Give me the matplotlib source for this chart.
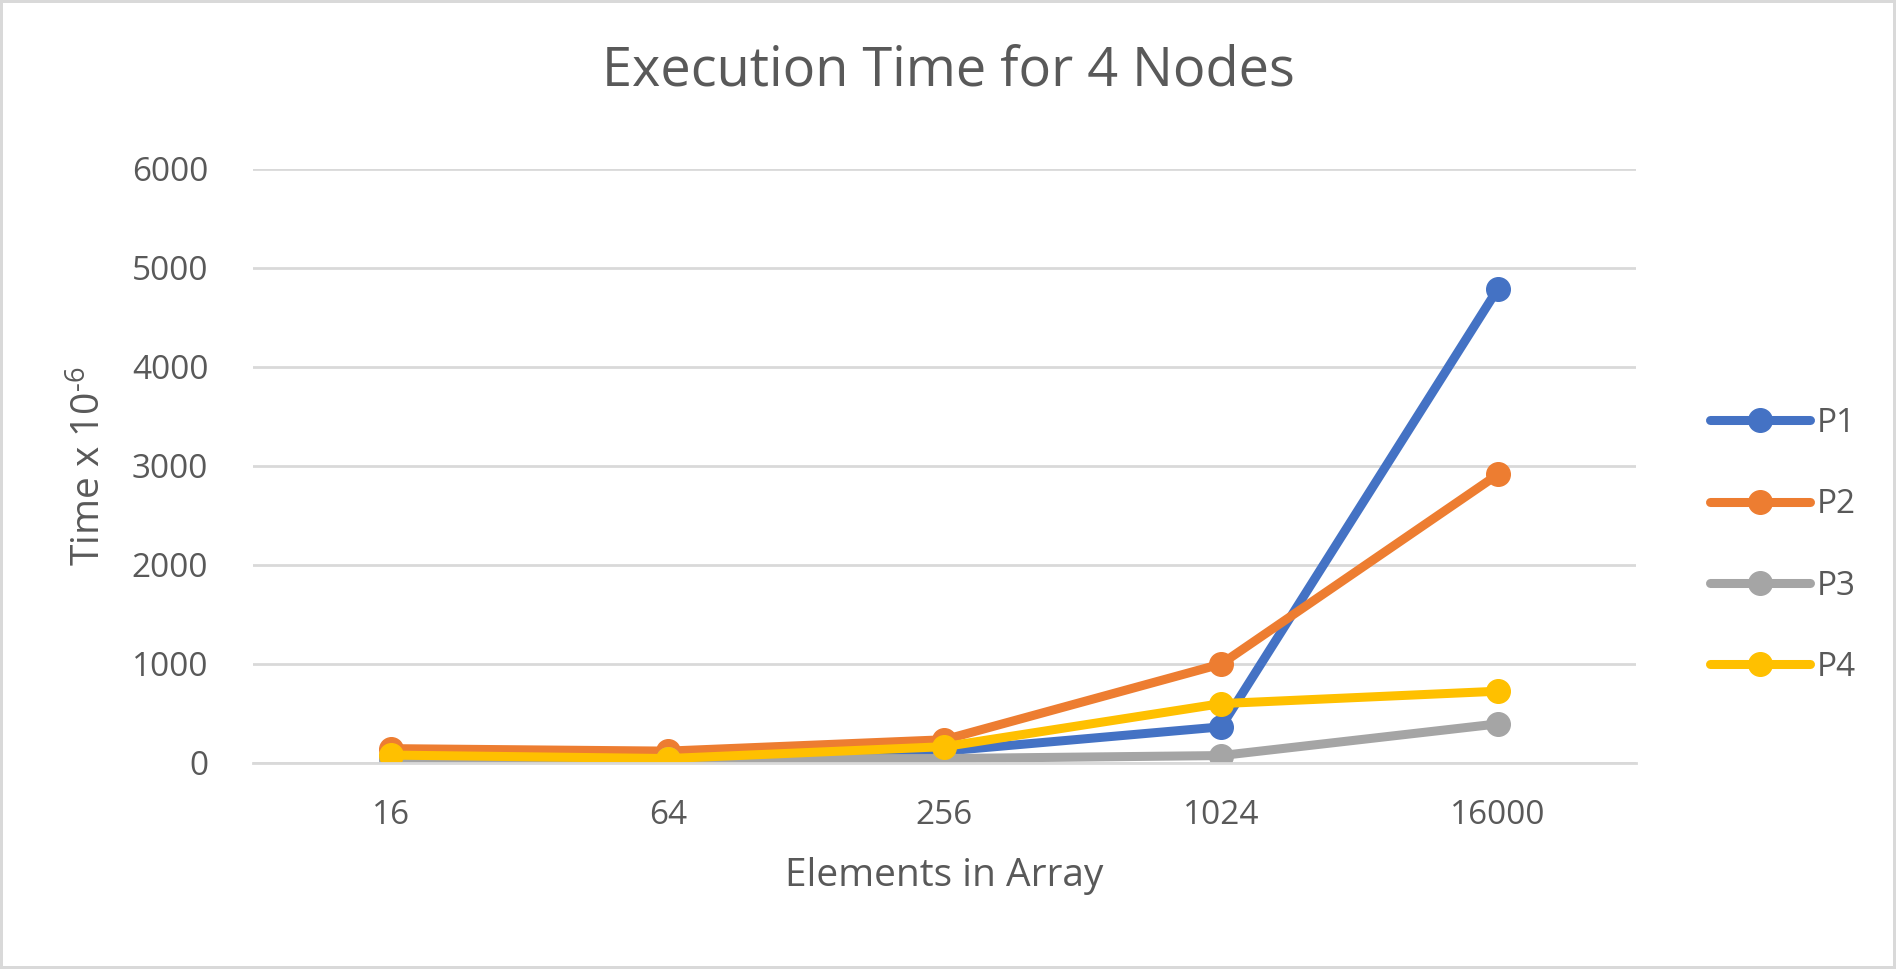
import matplotlib.pyplot as plt
from matplotlib.lines import Line2D

plt.rcParams['font.family'] = ['Open Sans', 'DejaVu Sans']
plt.rcParams['mathtext.default'] = 'regular'

categories = ['16', '64', '256', '1024', '16000']
p1 = [55, 45, 120, 365, 4790]
p2 = [145, 120, 235, 1000, 2915]
p3 = [50, 40, 45, 75, 395]
p4 = [80, 45, 165, 600, 725]

series = [('P1', p1, '#4472C4'), ('P2', p2, '#ED7D31'),
          ('P3', p3, '#A5A5A5'), ('P4', p4, '#FFC000')]

text_color = '#595959'

fig = plt.figure(figsize=(18.96, 9.69), dpi=100)
fig.patch.set_edgecolor('#D9D9D9')
fig.patch.set_linewidth(3)
ax = fig.add_axes([0.1333, 0.2126, 0.7297, 0.613])

x = list(range(len(categories)))
for name, vals, color in series:
    ax.plot(x, vals, '-o', color=color, lw=6.5, ms=17, label=name,
            solid_capstyle='round', solid_joinstyle='round')

ax.set_xlim(-0.5, len(categories) - 0.5)
ax.set_ylim(0, 6000)
ax.set_yticks(range(0, 6001, 1000))
ax.set_xticks(x)
ax.set_xticklabels(categories)
ax.yaxis.grid(True, color='#D9D9D9', lw=2)
ax.set_axisbelow(True)
for s in ['top', 'right', 'left']:
    ax.spines[s].set_visible(False)
ax.spines['bottom'].set_color('#D9D9D9')
ax.spines['bottom'].set_linewidth(2)
ax.tick_params(length=0, labelsize=24, labelcolor=text_color)
ax.tick_params(axis='y', pad=32)
ax.tick_params(axis='x', pad=26)

ax.set_xlabel('Elements in Array', fontsize=28, color=text_color, labelpad=18)
ax.set_ylabel('Time x 10$^{\u20106}$', fontsize=28, color=text_color,
              labelpad=16)
fig.suptitle('Execution Time for 4 Nodes', fontsize=39, color=text_color,
             y=0.955)

handles = [Line2D([], [], color=c, lw=6.5, marker='o', ms=17,
                  solid_capstyle='round') for _, _, c in series]
fig.legend(handles, [n for n, _, _ in series], loc='center left',
           bbox_to_anchor=(0.886, 0.437), frameon=False, fontsize=24,
           labelcolor=text_color, handlelength=3.0, handletextpad=0.2,
           labelspacing=1.45)

fig.savefig('out.png', dpi=100)
